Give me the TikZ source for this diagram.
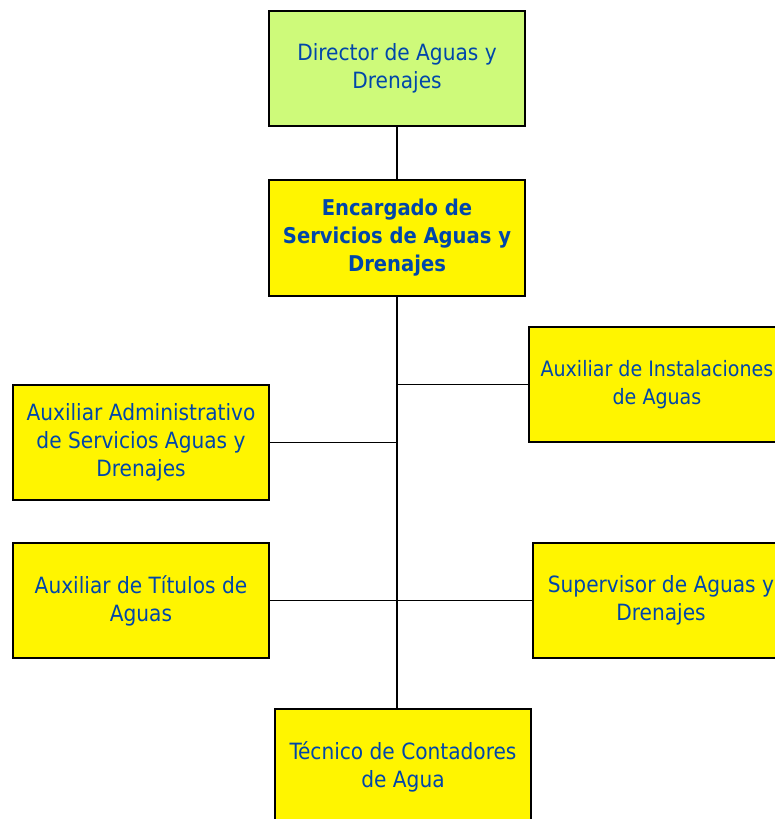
\documentclass[tikz,border=0pt]{standalone}
\usepackage{fontspec}
\setmainfont{DejaVu Sans Condensed}
\begin{document}
\begin{tikzpicture}[x=0.75pt,y=-0.75pt,
  box/.style={draw=black,line width=1.3pt,minimum width=192pt,minimum height=86.5pt,
    inner sep=0pt,align=center,text=txtblue,font=\fontsize{16.8}{21}\selectfont},
  ybox/.style={box,fill=boxyellow},
  gbox/.style={box,fill=boxgreen},
  conn/.style={draw=black,line width=1.1pt}]
\definecolor{boxyellow}{RGB}{255,245,0}
\definecolor{boxgreen}{RGB}{206,250,122}
\definecolor{txtblue}{RGB}{0,70,170}
\useasboundingbox (0,0) rectangle (775,819);
\clip (0,0) rectangle (775,819);
\node[gbox] (dir) at (397,68.5) {Director de Aguas y\\Drenajes};
\node[ybox,font=\fontsize{16.3}{21}\selectfont\bfseries] (enc) at (397,238) {Encargado de\\Servicios de Aguas y\\Drenajes};
\node[ybox,font=\fontsize{15.9}{21}\selectfont] (inst) at (657,384.5) {Auxiliar de Instalaciones\\de Aguas};
\node[ybox] (adm) at (141,442.5) {Auxiliar Administrativo\\de Servicios Aguas y\\Drenajes};
\node[ybox] (tit) at (141,600.5) {Auxiliar de Títulos de\\Aguas};
\node[ybox] (sup) at (661,600.5) {Supervisor de Aguas y\\Drenajes};
\node[ybox] (tec) at (403,767) {Técnico de Contadores\\de Agua};
\coordinate (bot) at (enc.south |- tec.north);
\draw[conn] (dir.south) -- (enc.north);
\draw[conn] (enc.south) -- (bot);
\draw[conn] (enc.south |- inst.west) -- (inst.west);
\draw[conn] (enc.south |- adm.east) -- (adm.east);
\draw[conn] (enc.south |- tit.east) -- (tit.east);
\draw[conn] (enc.south |- sup.west) -- (sup.west);
\end{tikzpicture}
\end{document}
